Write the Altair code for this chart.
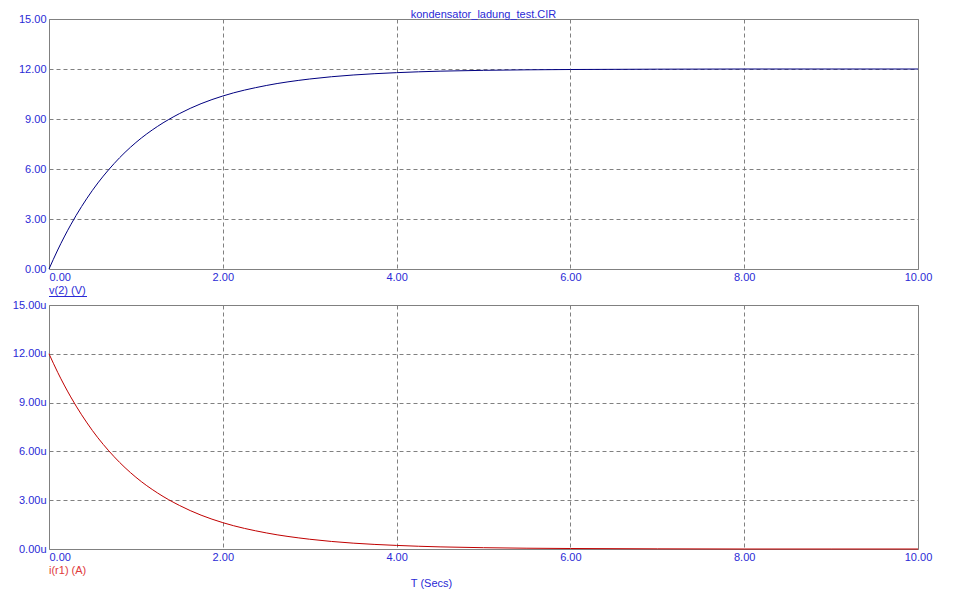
import altair as alt
import pandas as pd

# time points (s)
t_vals = [0.0, 0.1, 0.25, 0.5, 0.75, 1.0, 1.25, 1.5, 1.75, 2.0, 2.5, 3.0, 3.5,
          4.0, 4.5, 5.0, 6.0, 7.0, 8.0, 9.0, 10.0]
# v(2) in volts
v_vals = [0.0, 1.14, 2.65, 4.72, 6.33, 7.59, 8.56, 9.32, 9.92, 10.38, 11.01,
          11.40, 11.64, 11.78, 11.87, 11.92, 11.97, 11.99, 12.00, 12.00, 12.00]
# i(r1) in micro-amps
i_vals = [12.00, 10.86, 9.35, 7.28, 5.67, 4.41, 3.44, 2.68, 2.08, 1.62, 0.99,
          0.60, 0.36, 0.22, 0.13, 0.08, 0.03, 0.01, 0.00, 0.00, 0.00]

x_ticks = [0, 2, 4, 6, 8, 10]
y_ticks = [0, 3, 6, 9, 12, 15]

title_text = "kondensator_ladung_test.CIR"
top_label = "v(2) (V)"
bottom_label = "i(r1) (A)"
x_title = "T (Secs)"

df = pd.DataFrame({"t": t_vals, "v": v_vals, "i": i_vals})

BLUE_TXT = "#2a2ad6"
RED_TXT = "#e03a3a"
FONT = "Liberation Sans"
W = 869

x_enc = alt.X("t:Q", scale=alt.Scale(domain=[0, 10], nice=False),
              axis=alt.Axis(values=x_ticks, format=".2f", title=None,
                            labelAlign=alt.ExprRef(expr="datum.value == 0 ? 'left' : 'center'")))

def panel(col, color, ylabel_expr, height, label, label_color, underline, extra_title):
    base = alt.Chart(df)
    line = base.mark_line(color=color, strokeWidth=1, interpolate="monotone").encode(
        x=x_enc,
        y=alt.Y(f"{col}:Q", scale=alt.Scale(domain=[0, 15], nice=False),
                axis=alt.Axis(values=y_ticks, title=None, labelExpr=ylabel_expr)),
    )
    layers = [line]
    lab = alt.Chart(pd.DataFrame({"s": [label]})).mark_text(
        align="left", baseline="alphabetic", font=FONT, fontSize=11, color=label_color
    ).encode(x=alt.value(0), y=alt.value(height + 25), text="s:N")
    layers.append(lab)
    if underline:
        ul = alt.Chart(pd.DataFrame({"s": [label]})).mark_rule(color=label_color, strokeWidth=1).encode(
            x=alt.value(0), x2=alt.value(38), y=alt.value(height + 27.5))
        layers.append(ul)
    if extra_title == "top":
        tt = alt.Chart(pd.DataFrame({"s": [title_text]})).mark_text(
            align="center", baseline="top", font=FONT, fontSize=11, color=BLUE_TXT
        ).encode(x=alt.value(W / 2), y=alt.value(-10), text="s:N")
        layers.append(tt)
    if extra_title == "bottom":
        xt = alt.Chart(pd.DataFrame({"s": [x_title]})).mark_text(
            align="center", baseline="alphabetic", font=FONT, fontSize=11, color=BLUE_TXT
        ).encode(x=alt.value(382.5), y=alt.value(height + 38), text="s:N")
        layers.append(xt)
    return alt.layer(*layers).properties(width=W, height=height)

top = panel("v", "#000080", "format(datum.value, '.2f')", 250, top_label, BLUE_TXT, True, "top")
bottom = panel("i", "#c00000", "format(datum.value, '.2f') + 'u'", 244, bottom_label, RED_TXT, False, "bottom")

chart = alt.vconcat(top, bottom, spacing=36, bounds="flush").properties(
    padding={"left": 3, "top": 0, "right": 5, "bottom": 0},
    background="white",
).configure_view(
    stroke="#808080", strokeWidth=1
).configure_axis(
    grid=True, gridColor="#808080", gridDash=[4, 3], gridWidth=1, gridOpacity=1,
    domain=False, ticks=False,
    labelFont=FONT, labelFontSize=11, labelColor=BLUE_TXT,
    labelPadding=3,
).configure_axisX(labelPadding=2)

chart.save("out.html", embed_options={"renderer": "svg", "actions": False})
